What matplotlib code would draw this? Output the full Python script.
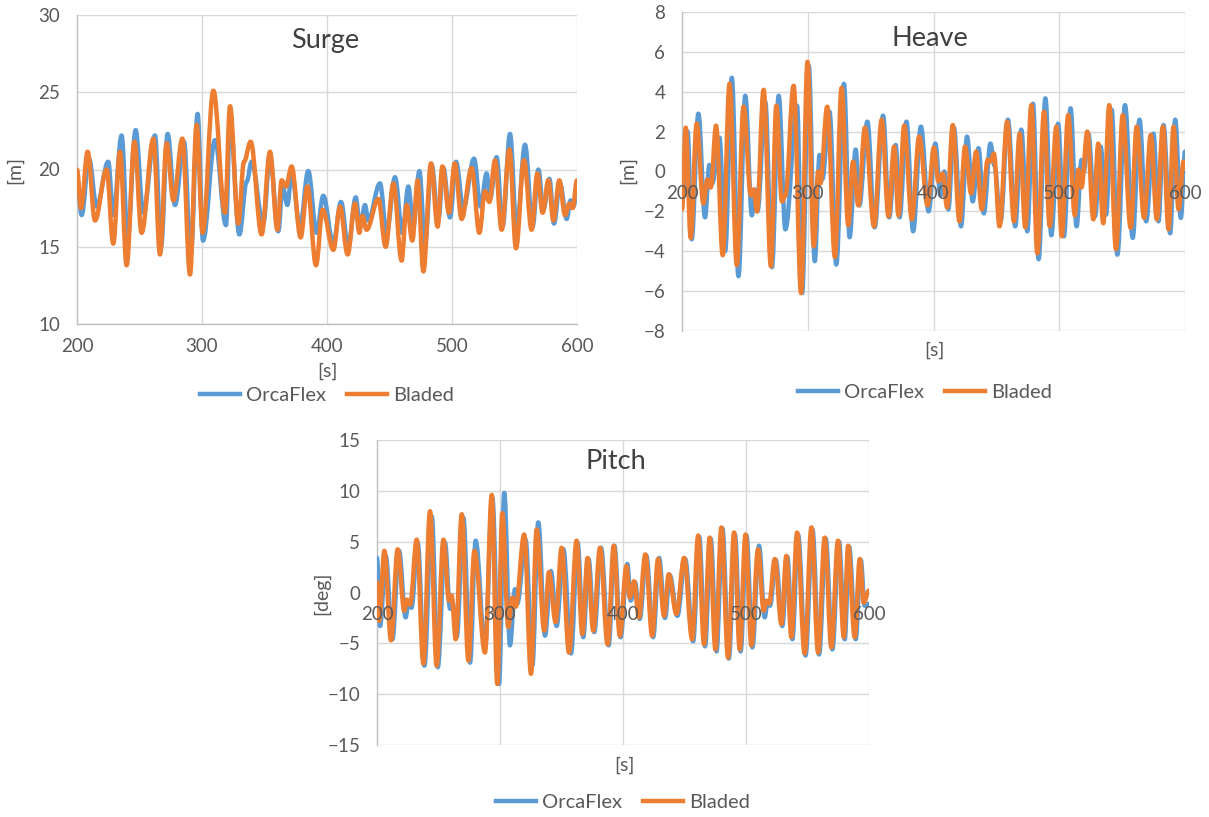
import matplotlib
matplotlib.use("Agg")
import matplotlib.pyplot as plt
from matplotlib.path import Path
from matplotlib.patches import PathPatch
from matplotlib.lines import Line2D

plt.rcParams['font.family'] = ['Lato', 'DejaVu Sans']

# ---------------- data ----------------
surge_orca_t = [200, 203.7, 209.6, 215.7, 225.0, 229.0, 235.7, 240.5, 246.9, 253.0, 262.4, 267.2, 272.5, 278.4,
                285.6, 291.0, 296.5, 300.8, 310.4, 319.2, 322.4, 329.9, 335.7, 339.7, 349.0, 354.4, 361.0, 364.5,
                368.3, 371.7, 378.4, 385.0, 391.7, 397.0, 405.0, 411.2, 417.0, 423.0, 426.4, 430.4, 433.0, 442.4,
                447.7, 454.4, 460.3, 465.1, 469.0, 473.9, 478.4, 483.7, 489.0, 493.1, 498.4, 503.2, 509.1, 517.6,
                522.9, 527.7, 530.4, 535.7, 540.5, 546.4, 551.7, 558.4, 564.5, 569.1, 573.1, 577.9, 581.6, 586.4,
                591.7, 594.9, 597.0, 600]
surge_orca_v = [19.5, 17.05, 20.7, 17.6, 20.5, 17.05, 22.2, 15.6, 22.55, 17.2, 22.2, 15.0, 22.3, 17.7,
                21.8, 14.5, 23.6, 15.4, 21.9, 16.4, 23.2, 15.8, 19.2, 20.5, 16.5, 20.8, 16.0, 18.9,
                17.7, 19.75, 16.3, 19.9, 15.9, 18.3, 15.2, 17.9, 15.0, 18.2, 16.3, 17.7, 16.7, 19.1,
                15.9, 19.5, 15.9, 18.9, 16.3, 19.9, 15.2, 20.3, 16.7, 20.1, 16.9, 20.5, 17.5, 20.7,
                17.6, 19.75, 18.1, 20.8, 16.3, 22.3, 16.1, 21.6, 16.3, 20.0, 17.4, 19.4, 16.5, 19.1,
                16.8, 18.0, 17.6, 18.4]
surge_bladed_t = [200, 203.2, 208.5, 214.4, 223.7, 229.0, 234.4, 239.7, 245.9, 251.7, 261.1, 266.4, 271.7, 277.1,
                  284.3, 290.4, 295.7, 300.5, 309.1, 318.4, 322.4, 329.0, 333.6, 338.9, 347.7, 354.4, 360.3, 363.7,
                  367.2, 371.7, 378.9, 384.3, 391.2, 396.5, 405.1, 410.4, 416.5, 422.4, 425.9, 428.3, 431.7, 441.1,
                  446.9, 453.1, 459.7, 463.7, 468.3, 472.5, 477.1, 483.2, 488.5, 492.3, 497.6, 502.2, 507.7, 515.7,
                  521.9, 526.4, 529.9, 534.4, 539.7, 545.9, 551.2, 557.6, 563.7, 568.3, 572.5, 577.1, 581.1, 585.9,
                  590.4, 593.9, 596.5, 600]
surge_bladed_v = [20.0, 17.5, 21.15, 16.7, 20.0, 15.2, 21.15, 13.8, 21.8, 15.9, 22.0, 14.5, 21.7, 18.0,
                  22.0, 13.2, 22.9, 15.9, 25.1, 17.2, 24.1, 16.5, 20.5, 21.8, 15.8, 21.15, 16.1, 19.3,
                  18.9, 20.2, 15.6, 18.9, 13.8, 17.4, 14.8, 17.6, 14.5, 17.8, 15.9, 17.0, 16.1, 18.1,
                  15.0, 19.1, 14.1, 17.7, 15.4, 19.3, 13.4, 20.4, 16.3, 20.2, 17.2, 20.4, 16.8, 20.1,
                  15.9, 18.6, 17.9, 20.6, 16.1, 21.3, 14.9, 20.6, 16.1, 19.75, 17.2, 19.3, 16.7, 19.3,
                  17.05, 17.8, 17.5, 19.3]

heave_orca_t = [200, 204.5, 207.7, 213.0, 218.3, 221.8, 224.0, 229.8, 234.3, 239.6, 244.9, 250.3, 255.6, 258.0,
                260.0, 266.2, 271.5, 276.9, 282.2, 291.5, 295.5, 300.8, 305.6, 309.4, 311.5, 317.3, 322.7, 328.8,
                333.3, 338.1, 341.0, 347.4, 353.2, 359.9, 364.7, 370.0, 373.0, 378.5, 383.8, 390.0, 396.1, 401.5,
                405.5, 408.6, 411.8, 416.1, 421.9, 426.7, 431.2, 435.8, 440.0, 445.3, 448.5, 453.3, 459.2, 465.0,
                469.8, 474.6, 479.1, 483.6, 489.0, 493.7, 499.1, 503.7, 509.0, 513.8, 517.7, 519.5, 523.1, 528.4,
                532.9, 537.2, 541.7, 546.2, 552.3, 558.4, 563.8, 569.1, 574.9, 578.9, 582.9, 588.2, 592.2, 596.7, 600]
heave_orca_v = [-1.5, 2.0, -3.4, 2.9, -2.3, 0.33, -0.6, 1.7, -4.0, 4.7, -5.25, 3.8, -2.2, -0.9,
                -2.0, 3.5, -4.8, 3.8, -2.9, 3.3, -6.1, 5.3, -4.5, 0.83, -0.4, 3.0, -4.67, 4.4,
                -3.3, 1.1, -1.7, 2.5, -2.8, 2.8, -2.3, 1.33, -2.3, 2.5, -3.0, 2.25, -2.0, 1.4,
                -1.2, 0.0, -1.9, 2.2, -2.75, 1.75, -1.5, 1.17, -2.1, 1.4, 0.3, -2.5, 2.6, -2.75,
                2.1, -3.0, 3.4, -4.4, 3.67, -3.2, 2.4, -3.25, 3.17, -2.75, 0.58, 0.0, 1.9, -2.25,
                1.25, -2.17, 3.1, -4.17, 3.33, -3.33, 2.6, -2.5, 1.9, -2.5, 2.33, -3.1, 2.6, -2.33, 1.0]
heave_bladed_t = [200, 203.0, 206.9, 211.7, 217.0, 220.2, 222.9, 227.1, 232.4, 237.8, 243.6, 248.9, 254.8, 257.0,
                  259.6, 264.9, 270.7, 275.0, 279.5, 282.2, 288.8, 294.7, 299.8, 304.8, 308.3, 310.0, 315.5, 321.6,
                  326.9, 332.2, 336.0, 340.2, 345.5, 352.7, 358.8, 364.2, 368.7, 372.1, 376.7, 382.8, 388.6, 395.3,
                  400.3, 403.9, 407.3, 410.8, 415.3, 420.6, 425.1, 429.9, 433.9, 438.4, 443.2, 445.5, 448.0, 452.5,
                  458.6, 464.0, 468.5, 473.0, 477.8, 482.6, 487.9, 492.4, 497.7, 502.0, 507.1, 512.4, 515.1, 517.7,
                  522.3, 527.1, 531.0, 535.0, 539.8, 545.1, 550.5, 556.8, 561.6, 567.5, 572.8, 577.6, 582.4, 586.9,
                  590.9, 594.9, 598.9, 600]
heave_bladed_v = [-1.9, 2.2, -3.33, 2.4, -1.6, -0.4, -0.8, 2.3, -4.2, 4.4, -4.7, 3.25, -1.2, -0.9,
                  -2.0, 4.1, -4.75, 3.3, -1.5, -1.2, 4.3, -6.1, 5.5, -3.75, 0.0, -0.6, 3.25, -4.3,
                  4.2, -2.7, 0.5, -1.7, 2.2, -2.75, 2.6, -2.25, 1.25, -2.2, 2.3, -2.4, 1.75, -1.7,
                  1.2, -0.5, -0.1, -1.8, 2.33, -2.5, 1.25, -1.1, 1.0, -1.9, 0.6, 0.5, 0.9, -2.75,
                  2.5, -2.5, 1.9, -2.8, 3.33, -4.1, 3.0, -2.75, 2.25, -3.25, 2.83, -2.2, 0.1, -0.8,
                  2.0, -2.4, 1.4, -2.6, 3.33, -3.9, 2.83, -2.83, 2.25, -2.33, 1.83, -2.4, 2.25, -2.9,
                  2.25, -1.9, 0.5, 0.2]

pitch_orca_t = [200, 202.5, 207.1, 212.5, 217.9, 223.3, 225.5, 228.0, 233.1, 238.5, 244.5, 249.4, 255.3, 259.4,
                261.5, 264.8, 270.2, 275.6, 280.2, 287.8, 293.8, 299.2, 303.5, 308.1, 312.2, 314.0, 320.8, 326.3,
                331.1, 336.6, 341.4, 346.0, 351.5, 357.7, 363.1, 367.7, 372.0, 376.6, 382.1, 388.3, 393.0, 398.0,
                403.5, 406.3, 409.8, 413.5, 419.0, 424.5, 429.3, 434.2, 438.0, 444.2, 450.5, 457.0, 461.9, 466.7,
                471.3, 476.0, 480.8, 486.0, 491.0, 495.6, 500.4, 505.2, 510.6, 515.2, 517.5, 519.5, 524.2, 529.5,
                533.6, 537.7, 542.3, 548.4, 554.0, 559.4, 564.8, 570.2, 575.6, 580.3, 583.8, 589.2, 593.3, 596.5, 600]
pitch_orca_v = [3.4, -3.3, 3.6, -4.6, 4.1, -2.45, -1.0, -1.5, 4.9, -7.2, 7.5, -7.35, 4.9, -1.6,
                -1.0, -4.4, 7.35, -6.9, 5.1, -5.4, 9.3, -9.0, 9.8, -5.2, 0.33, -1.1, 5.2, -7.2,
                6.9, -4.25, 2.1, -3.3, 4.25, -6.0, 4.9, -4.4, 3.3, -3.9, 4.4, -5.2, 4.6, -4.4,
                2.8, -0.8, 1.0, -2.6, 3.6, -4.4, 3.4, -2.5, 1.7, -2.3, 3.3, -4.8, 5.5, -5.3,
                5.3, -5.8, 6.3, -6.5, 5.7, -5.8, 5.6, -5.4, 4.6, -2.45, -1.0, -1.3, 3.2, -3.3,
                3.5, -4.6, 5.7, -6.2, 6.2, -6.1, 5.3, -5.6, 5.0, -4.6, 4.5, -4.6, 3.2, -1.3, -1.1]
pitch_bladed_t = [200, 201.7, 206.0, 211.4, 216.8, 222.2, 224.2, 226.9, 232.3, 237.7, 243.1, 248.5, 254.0, 258.6,
                  260.7, 264.0, 268.9, 274.3, 279.2, 287.8, 293.3, 297.8, 301.9, 306.7, 310.0, 312.7, 319.7, 325.2,
                  329.8, 336.0, 339.8, 345.2, 350.1, 356.1, 362.3, 366.9, 371.2, 375.8, 381.3, 387.5, 392.5, 397.4,
                  402.8, 405.5, 409.0, 412.8, 418.2, 423.7, 428.5, 433.4, 437.2, 443.4, 449.7, 456.2, 461.1, 465.9,
                  470.5, 475.1, 480.0, 485.4, 490.3, 494.9, 499.6, 504.4, 509.8, 514.4, 516.6, 518.8, 523.4, 528.8,
                  532.8, 536.9, 541.5, 547.7, 553.2, 558.6, 564.0, 569.4, 574.8, 579.5, 583.0, 588.4, 592.5, 595.7, 600]
pitch_bladed_v = [1.0, -2.8, 4.1, -4.7, 4.25, -1.8, -0.7, -1.2, 5.2, -7.0, 8.0, -7.2, 5.2, -0.8,
                  -0.3, -4.6, 7.7, -6.7, 4.1, -5.9, 9.6, -9.0, 7.8, -3.4, -0.5, -1.4, 5.7, -8.0,
                  6.2, -3.75, 2.0, -2.9, 4.4, -5.9, 5.1, -4.1, 3.4, -3.75, 4.4, -5.1, 4.6, -4.25,
                  2.6, -0.5, 1.1, -2.45, 3.75, -4.25, 3.3, -2.3, 1.8, -2.1, 3.4, -4.6, 5.6, -5.1,
                  5.4, -5.6, 6.4, -6.4, 5.9, -5.6, 5.7, -5.2, 4.25, -1.8, -0.8, -1.1, 3.3, -3.1,
                  3.6, -4.4, 5.9, -6.0, 6.4, -5.9, 5.4, -5.4, 5.1, -4.4, 4.6, -4.4, 3.3, -1.0, 0.2]

series_names = ["OrcaFlex", "Bladed"]
titles = ["Surge", "Heave", "Pitch"]
x_ticks = [200, 300, 400, 500, 600]

# ---------------- styling ----------------
BLUE = "#5B9BD5"
ORANGE = "#ED7D31"
GRID = "#D9D9D9"
AXIS = "#BFBFBF"
TXT = "#595959"
LW = 3.2

W, H = 1209, 817
fig = plt.figure(figsize=(W / 100, H / 100), dpi=100)


def box(l, t, r, b):
    return [l / W, 1 - b / H, (r - l) / W, (b - t) / H]


def smooth(ax, t, v, color):
    # Excel-style smoothed line through the read points
    verts = [(t[0], v[0])]
    codes = [Path.MOVETO]
    for i in range(len(t) - 1):
        d = (t[i + 1] - t[i]) * 0.364
        verts += [(t[i] + d, v[i]), (t[i + 1] - d, v[i + 1]), (t[i + 1], v[i + 1])]
        codes += [Path.CURVE4] * 3
    p = PathPatch(Path(verts, codes), fill=False, edgecolor=color, lw=LW,
                  capstyle='round', joinstyle='round', transform=ax.transData, zorder=3)
    ax.add_patch(p)


def style(ax, ylim, yticks, zero_axis):
    ax.set_xlim(200, 600)
    ax.set_ylim(*ylim)
    ax.set_xticks(x_ticks)
    ax.set_yticks(yticks)
    ax.set_axisbelow(True)
    ax.grid(True, axis='y', color=GRID, lw=1.0)
    for xv in x_ticks[1:]:
        ax.axvline(xv, color=GRID, lw=1.0, zorder=0.6)
    for s in ['top', 'right']:
        ax.spines[s].set_visible(False)
    ax.spines['left'].set_color(AXIS)
    ax.spines['bottom'].set_color(AXIS)
    ax.spines['left'].set_linewidth(1.0)
    ax.spines['bottom'].set_linewidth(1.0)
    if zero_axis:
        ax.spines['bottom'].set_position(('data', 0))
        ax.xaxis.set_zorder(5)  # labels drawn over the data, as in the reference
    ax.tick_params(axis='both', length=0, labelsize=13.5, colors=TXT)
    ax.tick_params(axis='x', pad=10)
    ax.tick_params(axis='y', pad=12)
    ax.set_facecolor('none')


def legend(x, y):
    handles = [Line2D([], [], color=BLUE, lw=LW), Line2D([], [], color=ORANGE, lw=LW)]
    fig.legend(handles, series_names, loc='center', bbox_to_anchor=(x, y), ncol=2, frameon=False,
               fontsize=14.5, handlelength=2.0, columnspacing=1.0, handletextpad=0.3, labelcolor=TXT)


# Surge
ax1 = fig.add_axes(box(77, 15, 577, 324))
style(ax1, (10, 30), [10, 15, 20, 25, 30], False)
smooth(ax1, surge_orca_t, surge_orca_v, BLUE)
smooth(ax1, surge_bladed_t, surge_bladed_v, ORANGE)
ax1.text(0.496, 0.919, titles[0], transform=ax1.transAxes, ha='center', va='center', fontsize=19.5, color='#404040')
fig.text(15 / W, 1 - 170 / H, "[m]", rotation=90, ha='center', va='center', fontsize=14, color=TXT)
fig.text(327 / W, 1 - 371 / H, "[s]", ha='center', va='center', fontsize=14, color=TXT)
legend(327 / W, 1 - 395 / H)

# Heave
ax2 = fig.add_axes(box(682, 12, 1185, 331))
style(ax2, (-8, 8), list(range(-8, 9, 2)), True)
smooth(ax2, heave_orca_t, heave_orca_v, BLUE)
smooth(ax2, heave_bladed_t, heave_bladed_v, ORANGE)
ax2.text(0.493, 0.918, titles[1], transform=ax2.transAxes, ha='center', va='center', fontsize=19.5, color='#404040')
fig.text(628 / W, 1 - 170 / H, "[m]", rotation=90, ha='center', va='center', fontsize=14, color=TXT)
fig.text(934 / W, 1 - 350 / H, "[s]", ha='center', va='center', fontsize=14, color=TXT)
legend(925 / W, 1 - 392 / H)

# Pitch
ax3 = fig.add_axes(box(377, 440, 869, 745))
style(ax3, (-15, 15), [-15, -10, -5, 0, 5, 10, 15], True)
smooth(ax3, pitch_orca_t, pitch_orca_v, BLUE)
smooth(ax3, pitch_bladed_t, pitch_bladed_v, ORANGE)
ax3.text(0.486, 0.931, titles[2], transform=ax3.transAxes, ha='center', va='center', fontsize=19.5, color='#404040')
fig.text(322 / W, 1 - 593 / H, "[deg]", rotation=90, ha='center', va='center', fontsize=14, color=TXT)
fig.text(624 / W, 1 - 765 / H, "[s]", ha='center', va='center', fontsize=14, color=TXT)
legend(623 / W, 1 - 802 / H)

fig.savefig("out.png", dpi=100, facecolor='white')
